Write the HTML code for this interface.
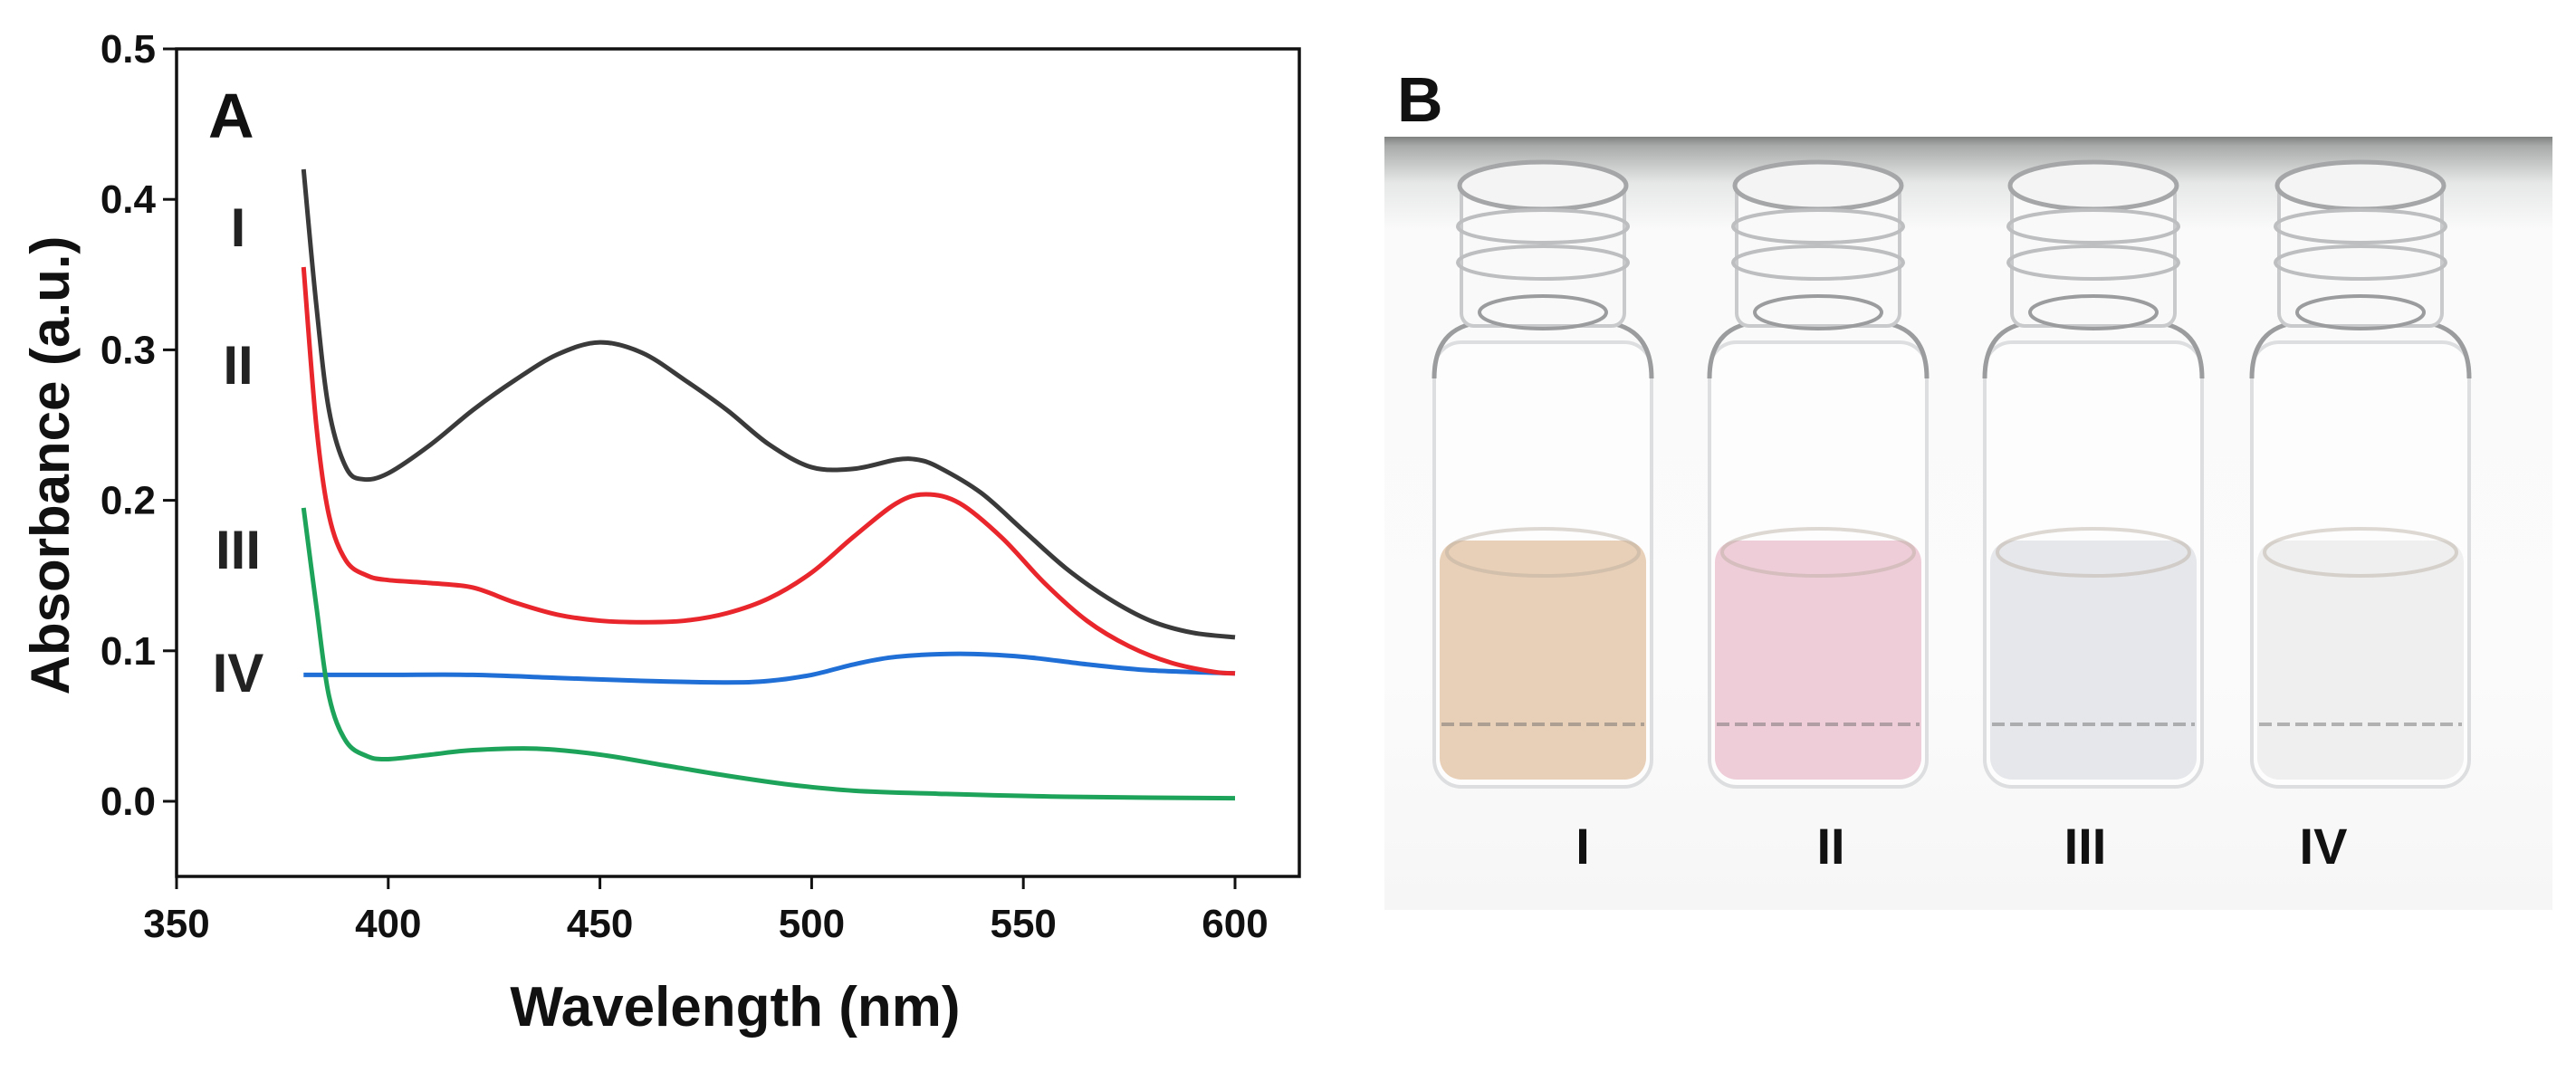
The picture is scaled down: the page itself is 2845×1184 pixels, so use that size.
<!DOCTYPE html>
<html><head><meta charset="utf-8"><style>
html,body{margin:0;padding:0;background:#fff;}
svg{display:block;font-family:"Liberation Sans",Arial,sans-serif;}
</style></head><body>
<svg width="2845" height="1184" viewBox="0 0 2845 1184">
<defs>
<linearGradient id="bgG" x1="0" y1="0" x2="0" y2="1">
<stop offset="0" stop-color="#7f8181"/><stop offset="0.012" stop-color="#a9abab"/><stop offset="0.06" stop-color="#e6e7e7"/><stop offset="0.12" stop-color="#fafafa"/><stop offset="0.7" stop-color="#fbfbfb"/><stop offset="1" stop-color="#f6f6f6"/>
</linearGradient>
</defs>
<g id="chart">
<rect x="195" y="54" width="1240" height="914" fill="none" stroke="#111" stroke-width="3.5"/>
<g id="ticks"></g>
<g id="series"></g>
<text x="230" y="152" font-size="70" font-weight="bold" fill="#111">A</text>
<text x="263" y="272" font-size="60" font-weight="bold" text-anchor="middle" fill="#222">I</text>
<text x="263" y="424" font-size="60" font-weight="bold" text-anchor="middle" fill="#222">II</text>
<text x="263" y="628" font-size="60" font-weight="bold" text-anchor="middle" fill="#222">III</text>
<text x="263" y="764" font-size="60" font-weight="bold" text-anchor="middle" fill="#222">IV</text>
<text x="812" y="1133" font-size="62" font-weight="bold" text-anchor="middle" fill="#111">Wavelength (nm)</text>
<text transform="translate(76,514) rotate(-90)" font-size="60" font-weight="bold" text-anchor="middle" fill="#111">Absorbance (a.u.)</text>
</g>
<g>
<text x="1543" y="134" font-size="70" font-weight="bold" fill="#111">B</text>
<rect x="1529" y="151" width="1290" height="854" fill="url(#bgG)"/>
<g id="vials"></g>
<text x="1748" y="954" font-size="56" font-weight="bold" text-anchor="middle" fill="#111">I</text>
<text x="2022" y="954" font-size="56" font-weight="bold" text-anchor="middle" fill="#111">II</text>
<text x="2303" y="954" font-size="56" font-weight="bold" text-anchor="middle" fill="#111">III</text>
<text x="2566" y="954" font-size="56" font-weight="bold" text-anchor="middle" fill="#111">IV</text>
</g>
</svg>
<script>
const xTicks = [350, 400, 450, 500, 550, 600];
const yTicks = [0.0, 0.1, 0.2, 0.3, 0.4, 0.5];
const yTickLabels = ["0.0", "0.1", "0.2", "0.3", "0.4", "0.5"];
const wlI = [380,383,386,390,394,400,410,420,430,440,450,460,470,480,490,500,510,520,525,530,540,550,560,570,580,590,600];
const absI = [0.42,0.33,0.26,0.222,0.214,0.218,0.237,0.26,0.28,0.297,0.305,0.298,0.28,0.26,0.237,0.222,0.221,0.227,0.227,0.222,0.205,0.18,0.155,0.135,0.12,0.112,0.109];
const wlII = [380,383,386,390,395,400,410,420,430,440,450,460,470,480,490,500,510,520,527,535,545,555,565,575,585,595,600];
const absII = [0.355,0.25,0.19,0.16,0.15,0.147,0.145,0.142,0.132,0.124,0.12,0.119,0.12,0.125,0.135,0.152,0.176,0.198,0.204,0.198,0.175,0.145,0.12,0.103,0.092,0.086,0.085];
const wlIV = [380,400,420,440,460,480,490,500,510,520,535,550,565,580,600];
const absIV = [0.084,0.084,0.084,0.082,0.080,0.079,0.080,0.084,0.091,0.096,0.098,0.096,0.091,0.087,0.085];
const wlIII = [380,383,386,390,395,400,410,420,435,450,465,480,495,510,530,560,600];
const absIII = [0.195,0.13,0.07,0.04,0.03,0.028,0.031,0.034,0.035,0.031,0.024,0.017,0.011,0.007,0.005,0.003,0.002];
const seriesColors = ["#3a3a3a","#e8262c","#1f6fd6","#1ea35a"];

const NS = "http://www.w3.org/2000/svg";
function xs(v){ return 195 + (v - 350) / 50 * 233.8; }
function ys(v){ return 885 - v * 1662; }
const tg = document.getElementById("ticks");
xTicks.forEach(function(t){
  const l = document.createElementNS(NS,"line");
  l.setAttribute("x1", xs(t)); l.setAttribute("x2", xs(t));
  l.setAttribute("y1", 968); l.setAttribute("y2", 982);
  l.setAttribute("stroke","#111"); l.setAttribute("stroke-width","3");
  
  
  tg.appendChild(l);
  const tx = document.createElementNS(NS,"text");
  tx.setAttribute("x", xs(t)); tx.setAttribute("y", 1035);
  tx.setAttribute("text-anchor","middle"); tx.setAttribute("font-size","44"); tx.setAttribute("font-weight","bold"); tx.setAttribute("fill","#111");
  tx.textContent = String(t);
  
  
  tg.appendChild(tx);
});
yTicks.forEach(function(t,i){
  const l = document.createElementNS(NS,"line");
  l.setAttribute("x1", 180); l.setAttribute("x2", 195);
  l.setAttribute("y1", ys(t)); l.setAttribute("y2", ys(t));
  l.setAttribute("stroke","#111"); l.setAttribute("stroke-width","3");
  
  
  tg.appendChild(l);
  const tx = document.createElementNS(NS,"text");
  tx.setAttribute("x", 172); tx.setAttribute("y", ys(t) + 15);
  tx.setAttribute("text-anchor","end"); tx.setAttribute("font-size","44"); tx.setAttribute("font-weight","bold"); tx.setAttribute("fill","#111");
  tx.textContent = yTickLabels[i];
  
  
  tg.appendChild(tx);
});
function smooth(px){
  let d = "M" + px[0][0] + "," + px[0][1];
  for (let i = 0; i < px.length - 1; i++){
    const p0 = px[Math.max(0,i-1)], p1 = px[i], p2 = px[i+1], p3 = px[Math.min(px.length-1,i+2)];
    const c1x = p1[0] + (p2[0]-p0[0])/6, c1y = p1[1] + (p2[1]-p0[1])/6;
    const c2x = p2[0] - (p3[0]-p1[0])/6, c2y = p2[1] - (p3[1]-p1[1])/6;
    d += " C" + c1x + "," + c1y + " " + c2x + "," + c2y + " " + p2[0] + "," + p2[1];
  }
  return d;
}
const sg = document.getElementById("series");
const allS = [[wlIV,absIV,2,"series-iv"],[wlIII,absIII,3,"series-iii"],[wlII,absII,1,"series-ii"],[wlI,absI,0,"series-i"]];
allS.forEach(function(s){
  const pts = s[0].map(function(w,i){ return [xs(w), ys(s[1][i])]; });
  const p = document.createElementNS(NS,"path");
  p.setAttribute("d", smooth(pts));
  p.setAttribute("fill","none"); p.setAttribute("stroke", seriesColors[s[2]]);
  p.setAttribute("stroke-width","5"); p.setAttribute("stroke-linejoin","round");
  
  
  sg.appendChild(p);
});
// vials
const vialX = [1704, 2008, 2312, 2607];
const liquid = ["#e8cfb7","#eecdd8","#e5e7ea","#eeefee"];
const vg = document.getElementById("vials");
vialX.forEach(function(cx,i){
  const g = document.createElementNS(NS,"g");
  
  
  const w = 240, top = 378, bot = 869;
  g.innerHTML =
    '<rect x="'+(cx-w/2)+'" y="'+top+'" width="'+w+'" height="'+(bot-top)+'" rx="30" fill="#fdfdfd" stroke="#dcdedf" stroke-width="4"/>' +
    '<rect x="'+(cx-w/2+6)+'" y="597" width="'+(w-12)+'" height="'+(bot-597-8)+'" rx="24" fill="'+liquid[i]+'"/>' +
    '<ellipse cx="'+cx+'" cy="610" rx="'+(w/2-14)+'" ry="26" fill="none" stroke="#b9aaa0" stroke-opacity="0.45" stroke-width="4"/>' +
    '<line x1="'+(cx-w/2+8)+'" y1="800" x2="'+(cx+w/2-8)+'" y2="800" stroke="#666" stroke-opacity="0.45" stroke-width="4" stroke-dasharray="14 6"/>' +
    '<path d="M'+(cx-w/2)+','+(top+40)+' Q'+(cx-w/2)+','+(top-10)+' '+(cx-80)+','+(top-20)+' L'+(cx+80)+','+(top-20)+' Q'+(cx+w/2)+','+(top-10)+' '+(cx+w/2)+','+(top+40)+'" fill="none" stroke="#9a9c9d" stroke-width="5"/>' +
    '<rect x="'+(cx-90)+'" y="200" width="180" height="160" rx="14" fill="#f9f9f9" stroke="#c8cacb" stroke-width="4"/>' +
    '<ellipse cx="'+cx+'" cy="205" rx="92" ry="26" fill="#f4f4f4" stroke="#a4a6a7" stroke-width="5"/>' +
    '<ellipse cx="'+cx+'" cy="250" rx="94" ry="18" fill="none" stroke="#bcbebf" stroke-width="4"/>' +
    '<ellipse cx="'+cx+'" cy="290" rx="94" ry="18" fill="none" stroke="#bcbebf" stroke-width="4"/>' +
    '<ellipse cx="'+cx+'" cy="345" rx="70" ry="18" fill="none" stroke="#9a9c9d" stroke-width="4"/>';
  vg.appendChild(g);
});
</script>
</body></html>
